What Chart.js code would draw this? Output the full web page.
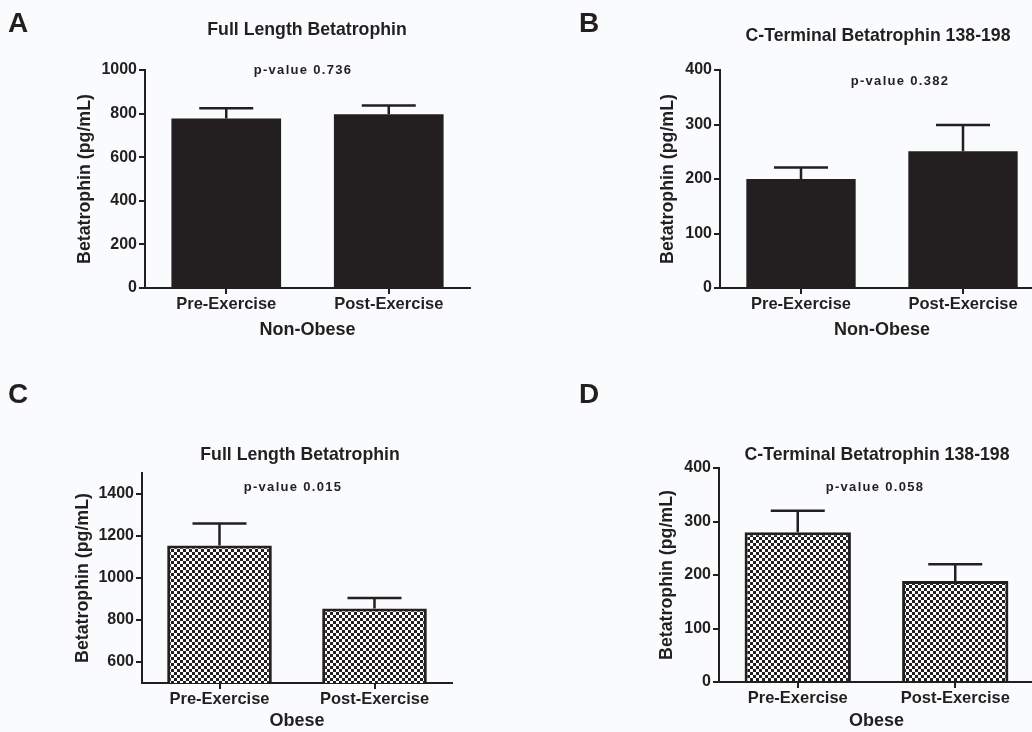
<!DOCTYPE html>
<html>
<head>
<meta charset="utf-8">
<script src="https://cdn.jsdelivr.net/npm/chart.js@4"></script>
<style>
  html, body { margin: 0; padding: 0; background: #f9fbfd; overflow: hidden; }
  body { width: 1032px; height: 732px; position: relative; }
  canvas { position: absolute; }
</style>
</head>
<body>
<canvas id="panelA" width="516" height="366" style="left:0;top:0"></canvas>
<canvas id="panelB" width="540" height="366" style="left:516px;top:0"></canvas>
<canvas id="panelC" width="516" height="366" style="left:0;top:366px"></canvas>
<canvas id="panelD" width="540" height="366" style="left:516px;top:366px"></canvas>
<script>
// --- data (mean + upper SEM) ---
const groups = ['Pre-Exercise', 'Post-Exercise'];

const fullNonObese = [778, 797];
const fullNonObeseErr = [46, 40];
const ctermNonObese = [200, 251];
const ctermNonObeseErr = [21, 48];

const fullObese = [1155, 855];
const fullObeseErr = [105, 50];
const ctermObese = [280, 189];
const ctermObeseErr = [40, 31];

const ticksFull = [0, 200, 400, 600, 800, 1000];
const ticksFullObese = [600, 800, 1000, 1200, 1400];
const ticksCterm = [0, 100, 200, 300, 400];

const pValues = ['p-value 0.736', 'p-value 0.382', 'p-value 0.015', 'p-value 0.058'];

const INK = '#231f20';
const FONT = "'Liberation Sans', Arial, sans-serif";

// checkerboard fill used for the obese panels
function checkerPattern() {
    const c = document.createElement('canvas');
    c.width = 6; c.height = 6;
    const g = c.getContext('2d');
    g.fillStyle = '#ffffff';
    g.fillRect(0, 0, 6, 6);
    g.fillStyle = INK;
    g.fillRect(0, 0, 3, 3);
    g.fillRect(3, 3, 3, 3);
    return g.createPattern(c, 'repeat');
}

// error bars (upper only) + panel texts
const panelDecor = {
    id: 'panelDecor',
    afterDatasetsDraw(chart, args, opts) {
        const ctx = chart.ctx;
        const yScale = chart.scales.y;
        const ds = chart.data.datasets[0];
        const meta = chart.getDatasetMeta(0);
        ctx.save();
        ctx.strokeStyle = INK;
        ctx.lineWidth = 2.5;
        meta.data.forEach((bar, i) => {
            const top = yScale.getPixelForValue(ds.data[i] + opts.errors[i]);
            ctx.beginPath();
            ctx.moveTo(bar.x, bar.y);
            ctx.lineTo(bar.x, top);
            ctx.moveTo(bar.x - 27, top);
            ctx.lineTo(bar.x + 27, top);
            ctx.stroke();
        });
        ctx.restore();
    },
    afterDraw(chart, args, opts) {
        const ctx = chart.ctx;
        ctx.save();
        ctx.fillStyle = INK;
        // panel letter
        ctx.font = 'bold 28px ' + FONT;
        ctx.textAlign = 'left';
        ctx.textBaseline = 'alphabetic';
        ctx.fillText(opts.letter, opts.letterX, opts.letterY);
        // title
        ctx.font = 'bold 17.7px ' + FONT;
        ctx.textAlign = 'center';
        ctx.textBaseline = 'middle';
        ctx.fillText(opts.title, opts.titleX, opts.titleY);
        // p-value
        ctx.font = 'bold 13px ' + FONT;
        ctx.letterSpacing = '1.3px';
        ctx.fillText(opts.pText, opts.pX, opts.pY);
        ctx.restore();
    }
};

function makePanel(id, cfg) {
    const canvas = document.getElementById(id);
    const W = canvas.width, H = canvas.height;
    const area = cfg.area; // desired chart area inside the canvas
    return new Chart(canvas, {
        type: 'bar',
        data: {
            labels: groups,
            datasets: [{
                data: cfg.values,
                backgroundColor: cfg.fill,
                borderColor: INK,
                borderWidth: cfg.border,
                borderSkipped: 'bottom',
                categoryPercentage: 1,
                barPercentage: 0.675
            }]
        },
        options: {
            responsive: false,
            animation: false,
            events: [],
            layout: { padding: { left: 0, top: area.top, right: W - area.right, bottom: 0 } },
            plugins: {
                legend: { display: false },
                tooltip: { enabled: false },
                panelDecor: {
                    errors: cfg.errors,
                    letter: cfg.letter, letterX: cfg.letterX, letterY: cfg.letterY,
                    title: cfg.title, titleX: cfg.titleX, titleY: cfg.titleY,
                    pText: cfg.pText, pX: cfg.pX, pY: cfg.pY
                }
            },
            scales: {
                x: {
                    grid: { display: true, drawOnChartArea: false, offset: false, tickLength: 6, color: INK, lineWidth: 2 },
                    border: { display: true, color: INK, width: 2 },
                    ticks: { color: INK, padding: 1, maxRotation: 0, font: { family: FONT, size: 16.5, weight: 'bold' } },
                    title: { display: true, text: cfg.xTitle, color: INK, padding: { top: 0, bottom: cfg.xTitlePad },
                             font: { family: FONT, size: 18, weight: 'bold' } },
                    afterFit(scale) { scale.height = H - area.bottom; }
                },
                y: {
                    min: cfg.min, max: cfg.max,
                    afterBuildTicks(scale) { scale.ticks = cfg.ticks.map(v => ({ value: v })); },
                    grid: { display: true, drawOnChartArea: false, tickLength: 6, color: INK, lineWidth: 2 },
                    border: { display: true, color: INK, width: 2 },
                    ticks: { color: INK, padding: 2, font: { family: FONT, size: 16, weight: 'bold' },
                             callback: v => String(v) },
                    title: { display: true, text: 'Betatrophin (pg/mL)', color: INK, padding: { top: cfg.yTitlePad, bottom: 0 },
                             font: { family: FONT, size: 17.8, weight: 'bold' } },
                    afterFit(scale) { scale.width = area.left; }
                }
            }
        },
        plugins: [panelDecor]
    });
}

const pattern = checkerPattern();

makePanel('panelA', {
    values: fullNonObese, errors: fullNonObeseErr, fill: INK, border: 0,
    min: 0, max: 1000, ticks: ticksFull,
    area: { left: 145, right: 470, top: 70, bottom: 288 },
    xTitle: 'Non-Obese', xTitlePad: 25, yTitlePad: 74,
    letter: 'A', letterX: 8, letterY: 32,
    title: 'Full Length Betatrophin', titleX: 307, titleY: 30,
    pText: pValues[0], pX: 303, pY: 70
});

makePanel('panelB', {
    values: ctermNonObese, errors: ctermNonObeseErr, fill: INK, border: 0,
    min: 0, max: 400, ticks: ticksCterm,
    area: { left: 204, right: 528, top: 70, bottom: 288 },
    xTitle: 'Non-Obese', xTitlePad: 25, yTitlePad: 141,
    letter: 'B', letterX: 63, letterY: 32,
    title: 'C-Terminal Betatrophin 138-198', titleX: 362, titleY: 36,
    pText: pValues[1], pX: 384, pY: 81
});

makePanel('panelC', {
    values: fullObese, errors: fullObeseErr, fill: pattern, border: 3,
    min: 500, max: 1500, ticks: ticksFullObese,
    area: { left: 142, right: 452, top: 107, bottom: 317 },
    xTitle: 'Obese', xTitlePad: 0, yTitlePad: 72,
    letter: 'C', letterX: 8, letterY: 37,
    title: 'Full Length Betatrophin', titleX: 300, titleY: 89,
    pText: pValues[2], pX: 293, pY: 121
});

makePanel('panelD', {
    values: ctermObese, errors: ctermObeseErr, fill: pattern, border: 3,
    min: 0, max: 400, ticks: ticksCterm,
    area: { left: 203, right: 518, top: 102, bottom: 316 },
    xTitle: 'Obese', xTitlePad: 0, yTitlePad: 140,
    letter: 'D', letterX: 63, letterY: 37,
    title: 'C-Terminal Betatrophin 138-198', titleX: 361, titleY: 89,
    pText: pValues[3], pX: 359, pY: 121
});
</script>
</body>
</html>
